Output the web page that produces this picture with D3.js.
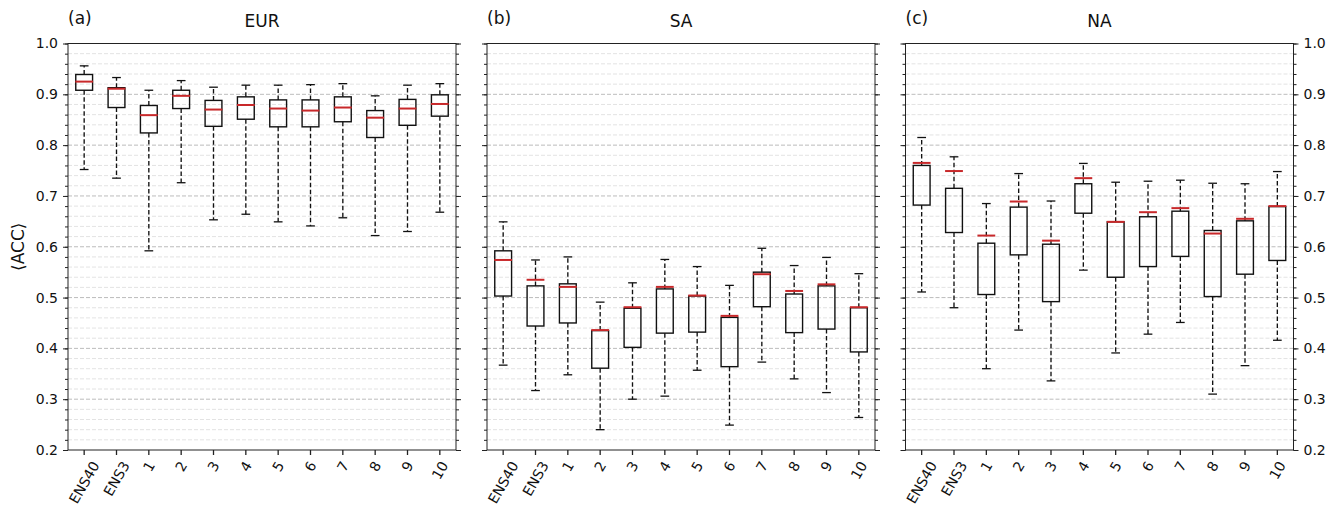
<!DOCTYPE html>
<html><head><meta charset="utf-8">
<script src="https://cdn.jsdelivr.net/npm/d3@7"></script>
<style>
body{margin:0;background:#fff}
text{font-family:"DejaVu Sans",sans-serif;fill:#111}
</style>
</head><body>
<svg id="chart" width="1338" height="508"></svg>
<script>
// ---------- data ----------
const categories = ["ENS40","ENS3","1","2","3","4","5","6","7","8","9","10"];
const regions = ["EUR","SA","NA"];
const panelLabels = ["(a)","(b)","(c)"];
const yTicks = [0.2,0.3,0.4,0.5,0.6,0.7,0.8,0.9,1.0];
const yMinorTicks = [0.2,0.22,0.24,0.26,0.28,0.3,0.32,0.34,0.36,0.38,0.4,0.42,0.44,0.46,0.48,0.5,0.52,0.54,0.56,0.58,0.6,0.62,0.64,0.66,0.68,0.7,0.72,0.74,0.76,0.78,0.8,0.82,0.84,0.86,0.88,0.9,0.92,0.94,0.96,0.98,1.0];

// EUR
const eurLow  = [0.752,0.735,0.592,0.726,0.653,0.664,0.649,0.641,0.657,0.622,0.630,0.668];
const eurQ1   = [0.908,0.874,0.824,0.872,0.837,0.851,0.836,0.836,0.846,0.815,0.839,0.857];
const eurMid  = [0.925,0.911,0.859,0.897,0.870,0.879,0.872,0.868,0.874,0.854,0.872,0.881];
const eurQ3   = [0.939,0.913,0.878,0.908,0.888,0.895,0.889,0.889,0.895,0.868,0.890,0.899];
const eurHigh = [0.956,0.933,0.908,0.927,0.914,0.918,0.918,0.919,0.921,0.897,0.918,0.921];
// SA
const saLow   = [0.367,0.317,0.348,0.240,0.300,0.306,0.357,0.249,0.373,0.340,0.313,0.264];
const saQ1    = [0.503,0.444,0.450,0.361,0.402,0.430,0.432,0.364,0.482,0.431,0.438,0.393];
const saMid   = [0.574,0.535,0.521,0.436,0.481,0.521,0.504,0.464,0.546,0.513,0.526,0.481];
const saQ3    = [0.592,0.523,0.527,0.435,0.479,0.517,0.503,0.461,0.550,0.507,0.523,0.480];
const saHigh  = [0.649,0.574,0.580,0.491,0.529,0.575,0.561,0.524,0.597,0.563,0.579,0.547];
// NA
const naLow   = [0.511,0.480,0.360,0.436,0.336,0.554,0.391,0.428,0.451,0.310,0.366,0.416];
const naQ1    = [0.682,0.628,0.506,0.584,0.492,0.666,0.540,0.561,0.581,0.502,0.546,0.573];
const naMid   = [0.765,0.749,0.622,0.689,0.612,0.735,0.649,0.668,0.676,0.626,0.655,0.680];
const naQ3    = [0.760,0.715,0.607,0.678,0.605,0.724,0.649,0.659,0.670,0.632,0.651,0.679];
const naHigh  = [0.815,0.777,0.685,0.744,0.690,0.764,0.727,0.729,0.731,0.725,0.724,0.748];

const panelData = [
  {low:eurLow, q1:eurQ1, mid:eurMid, q3:eurQ3, high:eurHigh},
  {low:saLow,  q1:saQ1,  mid:saMid,  q3:saQ3,  high:saHigh},
  {low:naLow,  q1:naQ1,  mid:naMid,  q3:naQ3,  high:naHigh}
];

// ---------- layout ----------
const svg = d3.select("#chart");
const yTop = 43.5, yBottom = 450, pw = 388;
const lefts = [68, 487, 905.5];
const red = "#c8282a";
const tickFont = 14;

const y = d3.scaleLinear().domain([0.2,1.0]).range([yBottom, yTop]);

panelLabels.forEach((lab, p) => {
  const L = lefts[p], R = L + pw;
  const g = svg.append("g");
  const x = d3.scaleBand().domain(categories).range([L, R]).paddingInner(0).paddingOuter(0);
  const bw = x.bandwidth();
  const cx = c => x(c) + bw/2;

  // grid
  const majorSet = new Set(yTicks.map(v => v.toFixed(2)));
  g.append("g").selectAll("line")
    .data(yMinorTicks.filter(v => !majorSet.has(v.toFixed(2))))
    .join("line")
    .attr("x1", L).attr("x2", R)
    .attr("y1", d => y(d)).attr("y2", d => y(d))
    .attr("stroke", "#dcdcdc").attr("stroke-width", 0.8).attr("stroke-dasharray", "4,2");
  g.append("g").selectAll("line")
    .data(yTicks.filter(v => v > 0.2 && v < 1.0))
    .join("line")
    .attr("x1", L).attr("x2", R)
    .attr("y1", d => y(d)).attr("y2", d => y(d))
    .attr("stroke", "#b4b4b4").attr("stroke-width", 0.9).attr("stroke-dasharray", "4,2");

  // boxes
  const D = panelData[p];
  const boxW = bw * 0.52, capW = bw * 0.27;
  const bx = g.append("g");
  categories.forEach((c, i) => {
    const xc = cx(c);
    const lo = Math.min(D.q1[i], D.q3[i]), hi = Math.max(D.q1[i], D.q3[i]);
    bx.append("line").attr("x1", xc).attr("x2", xc)
      .attr("y1", y(hi)).attr("y2", y(D.high[i]))
      .attr("stroke", "#111").attr("stroke-width", 1.35).attr("stroke-dasharray", "4.5,2.5");
    bx.append("line").attr("x1", xc).attr("x2", xc)
      .attr("y1", y(lo)).attr("y2", y(D.low[i]))
      .attr("stroke", "#111").attr("stroke-width", 1.35).attr("stroke-dasharray", "4.5,2.5");
    [D.high[i], D.low[i]].forEach(v => {
      bx.append("line").attr("x1", xc - capW/2).attr("x2", xc + capW/2)
        .attr("y1", y(v)).attr("y2", y(v))
        .attr("stroke", "#111").attr("stroke-width", 1.3);
    });
    bx.append("rect").attr("x", xc - boxW/2).attr("width", boxW)
      .attr("y", y(hi)).attr("height", y(lo) - y(hi))
      .attr("fill", "none").attr("stroke", "#111").attr("stroke-width", 1.4);
    bx.append("line").attr("x1", xc - boxW/2 - 0.5).attr("x2", xc + boxW/2 + 0.5)
      .attr("y1", y(D.mid[i])).attr("y2", y(D.mid[i]))
      .attr("stroke", red).attr("stroke-width", 2);
  });

  // y axes (left & right)
  const yl = d3.axisLeft(y).tickValues(yTicks).tickSize(5).tickPadding(5).tickFormat(d3.format(".1f"));
  const yr = d3.axisRight(y).tickValues(yTicks).tickSize(5).tickPadding(5).tickFormat(d3.format(".1f"));
  const ylm = d3.axisLeft(y).tickValues(yMinorTicks).tickSize(3).tickFormat("");
  const yrm = d3.axisRight(y).tickValues(yMinorTicks).tickSize(3).tickFormat("");
  const gl = g.append("g").attr("transform", `translate(${L},0)`).call(yl);
  const gr = g.append("g").attr("transform", `translate(${R},0)`).call(yr);
  g.append("g").attr("transform", `translate(${L},0)`).call(ylm).select(".domain").remove();
  g.append("g").attr("transform", `translate(${R},0)`).call(yrm).select(".domain").remove();
  [gl, gr].forEach(a => {
    a.select(".domain").remove();
    a.selectAll("text").style("font-size", tickFont + "px").style("font-family", "DejaVu Sans").attr("fill", "#111");
  });
  g.selectAll(".tick line").attr("stroke", "#222");
  if (p !== 0) gl.selectAll("text").remove();
  if (p !== 2) gr.selectAll("text").remove();

  // x axis
  const xa = d3.axisBottom(x).tickSize(5).tickSizeOuter(0);
  const gx = g.append("g").attr("transform", `translate(0,${yBottom})`).call(xa);
  gx.select(".domain").remove();
  gx.selectAll("line").attr("stroke", "#222").attr("stroke-width", 1.3);
  gx.selectAll("text")
    .style("font-size", tickFont + "px").style("font-family", "DejaVu Sans")
    .attr("fill", "#111")
    .attr("y", 0).attr("dy", null)
    .attr("text-anchor", "middle").attr("dominant-baseline", "central")
    .each(function() {
      const w = this.getComputedTextLength();
      const h = tickFont;
      const off = 5 + 4 + (0.866 * w + 0.5 * h) / 2;
      d3.select(this).attr("transform", `translate(0,${off}) rotate(-60)`);
    });

  // frame
  g.append("rect").attr("x", L).attr("y", yTop).attr("width", pw).attr("height", yBottom - yTop)
    .attr("fill", "none").attr("stroke", "#222").attr("stroke-width", 1);

  // titles
  g.append("text").attr("x", (L + R)/2).attr("y", 26.5).attr("text-anchor", "middle")
    .style("font-size", "17px").text(regions[p]);
  g.append("text").attr("x", L).attr("y", 24).attr("text-anchor", "start")
    .style("font-size", "17px").text(lab);
});

// y label
svg.append("text")
  .attr("transform", `translate(24,${(yTop+yBottom)/2}) rotate(-90)`)
  .attr("text-anchor", "middle")
  .style("font-size", "17px")
  .text("\u27E8ACC\u27E9");
</script>
</body></html>
